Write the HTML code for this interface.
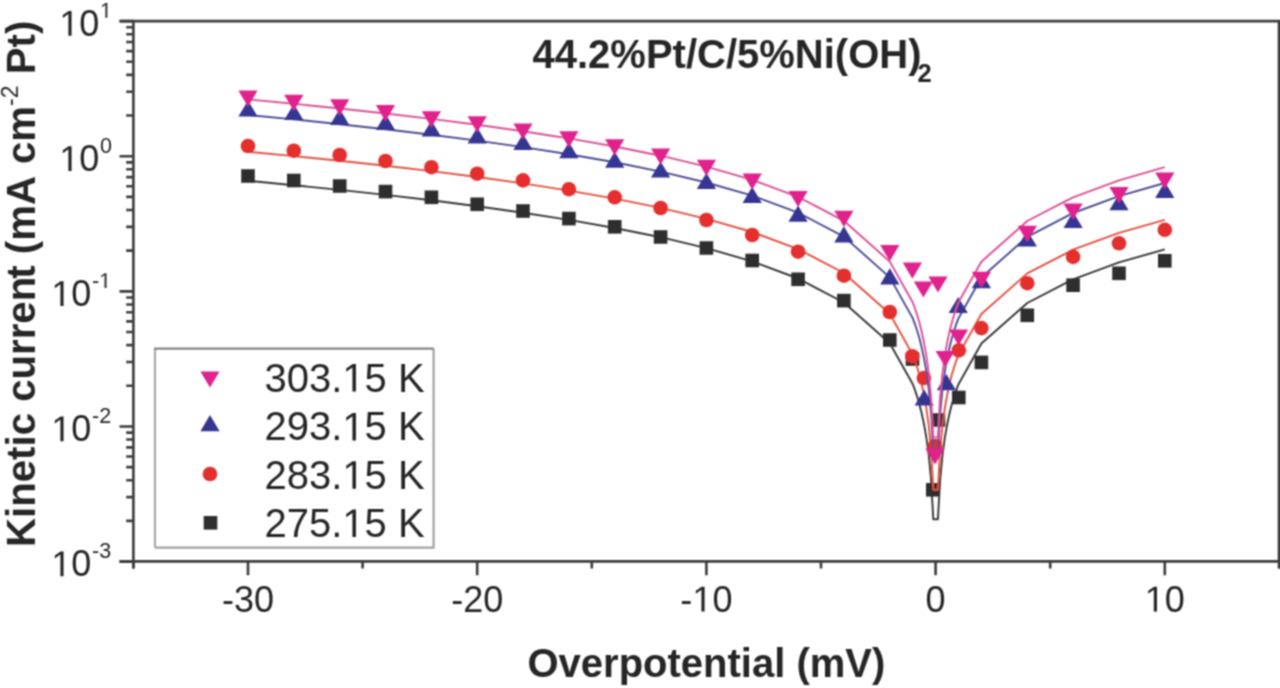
<!DOCTYPE html>
<html><head><meta charset="utf-8"><style>
html,body{margin:0;padding:0;background:#fff;width:1280px;height:688px;overflow:hidden}
svg{display:block}
text{font-family:"Liberation Sans",sans-serif}
.one{fill-opacity:0}
</style></head><body>
<svg width="1280" height="688" viewBox="0 0 1280 688">
<defs><filter id="bl" x="0" y="0" width="1280" height="688" filterUnits="userSpaceOnUse"><feConvolveMatrix order="3" kernelMatrix="1 2 1 2 4 2 1 2 1" divisor="16.0" edgeMode="duplicate" preserveAlpha="false"/></filter></defs>
<rect width="1280" height="688" fill="#fff"/>
<g filter="url(#bl)">
<polyline points="248.0,180.8 293.8,185.2 339.7,189.9 385.5,194.9 431.4,200.3 477.2,206.2 523.0,212.7 568.9,219.9 614.7,228.0 660.6,237.2 706.4,248.1 752.2,261.4 798.1,278.5 843.9,302.5 889.8,343.3 912.7,384.0 915.0,390.2 917.3,397.1 919.6,405.0 921.8,414.0 924.1,424.7 926.4,437.8 928.7,454.7 931.0,478.5 933.3,519.2 937.9,519.2 940.2,478.6 942.5,454.8 944.8,437.9 947.1,424.8 949.4,414.1 951.6,405.1 953.9,397.2 956.2,390.3 958.5,384.2 981.4,343.5 1027.3,303.0 1073.1,279.3 1119.0,262.4 1164.8,249.4" fill="none" stroke="#383838" stroke-width="1.9" stroke-linejoin="round"/>
<rect x="241.2" y="169.2" width="13.6" height="13.6" fill="#2e2e2e"/>
<rect x="287.0" y="173.7" width="13.6" height="13.6" fill="#2e2e2e"/>
<rect x="332.9" y="179.2" width="13.6" height="13.6" fill="#2e2e2e"/>
<rect x="378.7" y="184.8" width="13.6" height="13.6" fill="#2e2e2e"/>
<rect x="424.6" y="190.5" width="13.6" height="13.6" fill="#2e2e2e"/>
<rect x="470.4" y="197.5" width="13.6" height="13.6" fill="#2e2e2e"/>
<rect x="516.2" y="204.2" width="13.6" height="13.6" fill="#2e2e2e"/>
<rect x="562.1" y="211.8" width="13.6" height="13.6" fill="#2e2e2e"/>
<rect x="607.9" y="220.0" width="13.6" height="13.6" fill="#2e2e2e"/>
<rect x="653.8" y="230.2" width="13.6" height="13.6" fill="#2e2e2e"/>
<rect x="699.6" y="241.2" width="13.6" height="13.6" fill="#2e2e2e"/>
<rect x="745.4" y="253.7" width="13.6" height="13.6" fill="#2e2e2e"/>
<rect x="791.3" y="272.5" width="13.6" height="13.6" fill="#2e2e2e"/>
<rect x="837.1" y="293.8" width="13.6" height="13.6" fill="#2e2e2e"/>
<rect x="883.0" y="333.2" width="13.6" height="13.6" fill="#2e2e2e"/>
<rect x="905.7" y="352.2" width="13.6" height="13.6" fill="#2e2e2e"/>
<rect x="926.0" y="483.0" width="13.6" height="13.6" fill="#2e2e2e"/>
<rect x="931.6" y="413.2" width="13.6" height="13.6" fill="#2e2e2e"/>
<rect x="952.0" y="390.7" width="13.6" height="13.6" fill="#2e2e2e"/>
<rect x="974.6" y="355.6" width="13.6" height="13.6" fill="#2e2e2e"/>
<rect x="1020.5" y="308.5" width="13.6" height="13.6" fill="#2e2e2e"/>
<rect x="1066.3" y="278.4" width="13.6" height="13.6" fill="#2e2e2e"/>
<rect x="1112.2" y="266.5" width="13.6" height="13.6" fill="#2e2e2e"/>
<rect x="1158.0" y="254.0" width="13.6" height="13.6" fill="#2e2e2e"/>
<polyline points="248.0,151.7 293.8,156.1 339.7,160.7 385.5,165.7 431.4,171.1 477.2,177.0 523.0,183.4 568.9,190.6 614.7,198.6 660.6,207.9 706.4,218.8 752.2,232.0 798.1,249.1 843.9,273.0 889.8,313.8 912.7,354.6 915.0,360.7 917.3,367.7 919.6,375.5 921.8,384.5 924.1,395.3 926.4,408.4 928.7,425.2 931.0,449.0 933.3,489.7 937.9,489.7 940.2,449.1 942.5,425.3 944.8,408.4 947.1,395.3 949.4,384.6 951.6,375.6 953.9,367.7 956.2,360.8 958.5,354.6 981.4,314.0 1027.3,273.4 1073.1,249.7 1119.0,232.8 1164.8,219.8" fill="none" stroke="#e3513f" stroke-width="1.9" stroke-linejoin="round"/>
<circle cx="248.0" cy="146.0" r="7.3" fill="#e52d2d"/>
<circle cx="293.8" cy="150.7" r="7.3" fill="#e52d2d"/>
<circle cx="339.7" cy="155.0" r="7.3" fill="#e52d2d"/>
<circle cx="385.5" cy="161.0" r="7.3" fill="#e52d2d"/>
<circle cx="431.4" cy="167.2" r="7.3" fill="#e52d2d"/>
<circle cx="477.2" cy="173.7" r="7.3" fill="#e52d2d"/>
<circle cx="523.0" cy="180.4" r="7.3" fill="#e52d2d"/>
<circle cx="568.9" cy="189.2" r="7.3" fill="#e52d2d"/>
<circle cx="614.7" cy="197.3" r="7.3" fill="#e52d2d"/>
<circle cx="660.6" cy="208.0" r="7.3" fill="#e52d2d"/>
<circle cx="706.4" cy="220.0" r="7.3" fill="#e52d2d"/>
<circle cx="752.2" cy="235.0" r="7.3" fill="#e52d2d"/>
<circle cx="798.1" cy="251.7" r="7.3" fill="#e52d2d"/>
<circle cx="843.9" cy="275.7" r="7.3" fill="#e52d2d"/>
<circle cx="889.8" cy="312.0" r="7.3" fill="#e52d2d"/>
<circle cx="912.3" cy="356.2" r="7.3" fill="#e52d2d"/>
<circle cx="923.9" cy="378.0" r="7.3" fill="#e52d2d"/>
<circle cx="935.0" cy="446.0" r="7.3" fill="#e52d2d"/>
<circle cx="958.8" cy="350.4" r="7.3" fill="#e52d2d"/>
<circle cx="981.4" cy="328.1" r="7.3" fill="#e52d2d"/>
<circle cx="1027.3" cy="283.2" r="7.3" fill="#e52d2d"/>
<circle cx="1073.1" cy="256.9" r="7.3" fill="#e52d2d"/>
<circle cx="1119.0" cy="243.3" r="7.3" fill="#e52d2d"/>
<circle cx="1164.8" cy="229.8" r="7.3" fill="#e52d2d"/>
<polyline points="248.0,115.0 293.8,119.4 339.7,124.2 385.5,129.2 431.4,134.7 477.2,140.6 523.0,147.1 568.9,154.2 614.7,162.3 660.6,171.6 706.4,182.5 752.2,195.7 798.1,212.7 843.9,236.6 889.8,277.4 912.7,318.1 915.0,324.3 917.3,331.2 919.6,339.1 921.8,348.1 924.1,358.8 926.4,371.9 928.7,388.8 931.0,412.6 933.3,453.3 937.9,453.3 940.2,412.6 942.5,388.8 944.8,371.9 947.1,358.8 949.4,348.1 951.6,339.1 953.9,331.3 956.2,324.4 958.5,318.2 981.4,277.5 1027.3,236.8 1073.1,213.0 1119.0,196.1 1164.8,183.0" fill="none" stroke="#4c4c98" stroke-width="1.9" stroke-linejoin="round"/>
<path d="M238.4 116.6H257.6L248.0 100.4Z" fill="#343494"/>
<path d="M284.2 120.1H303.4L293.8 103.9Z" fill="#343494"/>
<path d="M330.1 125.0H349.3L339.7 108.8Z" fill="#343494"/>
<path d="M375.9 130.1H395.1L385.5 113.9Z" fill="#343494"/>
<path d="M421.8 136.6H441.0L431.4 120.4Z" fill="#343494"/>
<path d="M467.6 143.4H486.8L477.2 127.2Z" fill="#343494"/>
<path d="M513.4 149.9H532.6L523.0 133.7Z" fill="#343494"/>
<path d="M559.3 158.2H578.5L568.9 142.0Z" fill="#343494"/>
<path d="M605.1 167.8H624.3L614.7 151.6Z" fill="#343494"/>
<path d="M651.0 177.6H670.2L660.6 161.4Z" fill="#343494"/>
<path d="M696.8 188.9H716.0L706.4 172.7Z" fill="#343494"/>
<path d="M742.6 203.0H761.8L752.2 186.8Z" fill="#343494"/>
<path d="M788.5 221.8H807.7L798.1 205.6Z" fill="#343494"/>
<path d="M834.3 242.5H853.5L843.9 226.3Z" fill="#343494"/>
<path d="M880.2 284.4H899.4L889.8 268.2Z" fill="#343494"/>
<path d="M914.6 405.6H933.8L924.2 389.4Z" fill="#343494"/>
<path d="M936.8 390.2H956.0L946.4 374.0Z" fill="#343494"/>
<path d="M948.6 313.1H967.8L958.2 296.9Z" fill="#343494"/>
<path d="M971.8 288.3H991.0L981.4 272.1Z" fill="#343494"/>
<path d="M1017.7 246.6H1036.9L1027.3 230.4Z" fill="#343494"/>
<path d="M1063.5 228.0H1082.7L1073.1 211.8Z" fill="#343494"/>
<path d="M1109.4 210.2H1128.6L1119.0 194.0Z" fill="#343494"/>
<path d="M1155.2 198.0H1174.4L1164.8 181.8Z" fill="#343494"/>
<polyline points="248.0,99.4 293.8,103.8 339.7,108.5 385.5,113.5 431.4,118.9 477.2,124.8 523.0,131.3 568.9,138.4 614.7,146.5 660.6,155.7 706.4,166.6 752.2,179.9 798.1,196.9 843.9,220.8 889.8,261.6 912.7,302.3 915.0,308.5 917.3,315.4 919.6,323.2 921.8,332.3 924.1,343.0 926.4,356.1 928.7,373.0 931.0,396.8 933.3,437.4 937.9,437.4 940.2,396.8 942.5,373.0 944.8,356.1 947.1,343.0 949.4,332.3 951.6,323.3 953.9,315.4 956.2,308.5 958.5,302.3 981.4,261.7 1027.3,221.0 1073.1,197.3 1119.0,180.4 1164.8,167.2" fill="none" stroke="#de4f96" stroke-width="1.9" stroke-linejoin="round"/>
<path d="M238.4 90.5H257.6L248.0 106.7Z" fill="#e0218c"/>
<path d="M284.2 94.8H303.4L293.8 111.0Z" fill="#e0218c"/>
<path d="M330.1 99.2H349.3L339.7 115.4Z" fill="#e0218c"/>
<path d="M375.9 105.1H395.1L385.5 121.3Z" fill="#e0218c"/>
<path d="M421.8 111.2H441.0L431.4 127.4Z" fill="#e0218c"/>
<path d="M467.6 116.3H486.8L477.2 132.5Z" fill="#e0218c"/>
<path d="M513.4 123.4H532.6L523.0 139.6Z" fill="#e0218c"/>
<path d="M559.3 131.2H578.5L568.9 147.4Z" fill="#e0218c"/>
<path d="M605.1 139.3H624.3L614.7 155.5Z" fill="#e0218c"/>
<path d="M651.0 148.5H670.2L660.6 164.7Z" fill="#e0218c"/>
<path d="M696.8 159.7H716.0L706.4 175.9Z" fill="#e0218c"/>
<path d="M742.6 173.5H761.8L752.2 189.7Z" fill="#e0218c"/>
<path d="M788.5 190.9H807.7L798.1 207.1Z" fill="#e0218c"/>
<path d="M834.3 210.8H853.5L843.9 227.0Z" fill="#e0218c"/>
<path d="M880.2 245.1H899.4L889.8 261.3Z" fill="#e0218c"/>
<path d="M902.8 262.5H922.0L912.4 278.7Z" fill="#e0218c"/>
<path d="M913.8 281.4H933.0L923.4 297.6Z" fill="#e0218c"/>
<path d="M928.4 276.4H947.6L938.0 292.6Z" fill="#e0218c"/>
<path d="M935.6 350.9H954.8L945.2 367.1Z" fill="#e0218c"/>
<path d="M949.0 329.4H968.2L958.6 345.6Z" fill="#e0218c"/>
<path d="M925.4 448.4H944.6L935.0 464.6Z" fill="#e0218c"/>
<path d="M971.8 271.7H991.0L981.4 287.9Z" fill="#e0218c"/>
<path d="M1017.7 225.8H1036.9L1027.3 242.0Z" fill="#e0218c"/>
<path d="M1063.5 203.4H1082.7L1073.1 219.6Z" fill="#e0218c"/>
<path d="M1109.4 187.0H1128.6L1119.0 203.2Z" fill="#e0218c"/>
<path d="M1155.2 172.6H1174.4L1164.8 188.8Z" fill="#e0218c"/>
<path d="M133.4 21.1V568.6M1279.0 19.8V568.6M119.5 21.1H1280M119.5 561.4H1280" stroke="#3c3c3c" stroke-width="2.6" fill="none"/>
<path d="M119.5 561.60H133.4M126.2 520.92H133.4M126.2 497.13H133.4M126.2 480.25H133.4M126.2 467.15H133.4M126.2 456.45H133.4M126.2 447.41H133.4M126.2 439.57H133.4M126.2 432.66H133.4M119.5 426.48H133.4M126.2 385.80H133.4M126.2 362.00H133.4M126.2 345.12H133.4M126.2 332.03H133.4M126.2 321.33H133.4M126.2 312.28H133.4M126.2 304.44H133.4M126.2 297.53H133.4M119.5 291.35H133.4M126.2 250.67H133.4M126.2 226.88H133.4M126.2 210.00H133.4M126.2 196.90H133.4M126.2 186.20H133.4M126.2 177.16H133.4M126.2 169.32H133.4M126.2 162.41H133.4M119.5 156.22H133.4M126.2 115.55H133.4M126.2 91.75H133.4M126.2 74.87H133.4M126.2 61.78H133.4M126.2 51.08H133.4M126.2 42.03H133.4M126.2 34.19H133.4M126.2 27.28H133.4M119.5 21.10H133.4M248.00 561.4V575.2M477.20 561.4V575.2M706.40 561.4V575.2M935.60 561.4V575.2M1164.80 561.4V575.2M133.40 561.4V568.6M362.60 561.4V568.6M591.80 561.4V568.6M821.00 561.4V568.6M1050.20 561.4V568.6M1279.40 561.4V568.6" stroke="#3c3c3c" stroke-width="2.6" fill="none"/>
<path d="M155 547.6V348.6" stroke="#a8a8a8" stroke-width="2.2" fill="none"/><path d="M433.6 348.6V547.6H155" stroke="#a2a2a2" stroke-width="2.2" fill="none"/><path d="M154 348.6H433.6" stroke="#858585" stroke-width="2.3" fill="none"/>
<path d="M200.4 371.4H219.6L210.0 387.6Z" fill="#e0218c"/>
<path d="M200.4 431.3H219.6L210.0 415.1Z" fill="#343494"/>
<circle cx="210.0" cy="474.0" r="7.3" fill="#e52d2d"/>
<rect x="203.7" y="516.0" width="13.6" height="13.6" fill="#2e2e2e"/>
<g font-size="40" fill="#262626">
<text x="264.5" y="391.6">303.<tspan class="one">1</tspan>5 K</text>
<text x="264.5" y="440.4">293.<tspan class="one">1</tspan>5 K</text>
<text x="264.5" y="488.8">283.<tspan class="one">1</tspan>5 K</text>
<text x="264.5" y="537.1">275.<tspan class="one">1</tspan>5 K</text>
</g>
<g font-size="36" fill="#262626">
<text x="248.0" y="611.5" text-anchor="middle">-30</text>
<text x="477.2" y="611.5" text-anchor="middle">-20</text>
<text x="706.4" y="611.5" text-anchor="middle">-<tspan class="one">1</tspan>0</text>
<text x="935.6" y="611.5" text-anchor="middle">0</text>
<text x="1164.8" y="611.5" text-anchor="middle"><tspan class="one">1</tspan>0</text>
<text x="91.4" y="576.3" text-anchor="end"><tspan class="one">1</tspan>0</text><text x="92.0" y="558.3" font-size="21.5">-3</text>
<text x="91.4" y="441.2" text-anchor="end"><tspan class="one">1</tspan>0</text><text x="92.0" y="423.2" font-size="21.5">-2</text>
<text x="91.4" y="306.1" text-anchor="end"><tspan class="one">1</tspan>0</text><text x="92.0" y="288.1" font-size="21.5">-<tspan class="one">1</tspan></text>
<text x="99.4" y="170.9" text-anchor="end"><tspan class="one">1</tspan>0</text><text x="100.0" y="152.9" font-size="21.5">0</text>
<text x="99.4" y="35.8" text-anchor="end"><tspan class="one">1</tspan>0</text><text x="100.0" y="17.8" font-size="21.5"><tspan class="one">1</tspan></text>
</g>
<text x="706.4" y="677" text-anchor="middle" font-size="40" font-weight="bold" fill="#262626">Overpotential (mV)</text>
<text x="532.5" y="67.8" font-size="40" font-weight="bold" fill="#262626">44.2%Pt/C/5%Ni(OH)<tspan font-size="25.5" dy="14.6" dx="-4">2</tspan></text>
<text transform="translate(34.9,547) rotate(-90)" font-size="40.2" font-weight="bold" fill="#262626">Kinetic curren<tspan dx="-2">t (mA</tspan><tspan dx="2.4"> cm</tspan><tspan font-size="23" font-weight="normal" dy="-17">-2</tspan><tspan dy="17"> Pt)</tspan></text>
<path fill="#262626" d="M352.42,391.60 L352.42,367.44 L346.21,371.87 L346.21,368.55 L352.71,364.08 L355.95,364.08 L355.95,391.60Z M352.42,440.40 L352.42,416.24 L346.21,420.67 L346.21,417.35 L352.71,412.88 L355.95,412.88 L355.95,440.40Z M352.42,488.80 L352.42,464.64 L346.21,469.07 L346.21,465.75 L352.71,461.28 L355.95,461.28 L355.95,488.80Z M352.42,537.10 L352.42,512.94 L346.21,517.37 L346.21,514.05 L352.71,509.58 L355.95,509.58 L355.95,537.10Z M701.42,611.50 L701.42,589.76 L695.83,593.75 L695.83,590.76 L701.69,586.73 L704.60,586.73 L704.60,611.50Z M1153.82,611.50 L1153.82,589.76 L1148.23,593.75 L1148.23,590.76 L1154.09,586.73 L1157.00,586.73 L1157.00,611.50Z M60.39,576.30 L60.39,554.56 L54.80,558.55 L54.80,555.56 L60.65,551.53 L63.57,551.53 L63.57,576.30Z M60.39,441.20 L60.39,419.46 L54.80,423.45 L54.80,420.46 L60.65,416.43 L63.57,416.43 L63.57,441.20Z M60.39,306.10 L60.39,284.36 L54.80,288.35 L54.80,285.36 L60.65,281.33 L63.57,281.33 L63.57,306.10Z M104.58,288.10 L104.58,275.11 L101.24,277.50 L101.24,275.71 L104.74,273.31 L106.48,273.31 L106.48,288.10Z M68.39,170.90 L68.39,149.16 L62.80,153.15 L62.80,150.16 L68.65,146.13 L71.57,146.13 L71.57,170.90Z M68.39,35.80 L68.39,14.06 L62.80,18.05 L62.80,15.06 L68.65,11.03 L71.57,11.03 L71.57,35.80Z M105.41,17.80 L105.41,4.81 L102.07,7.20 L102.07,5.41 L105.56,3.01 L107.31,3.01 L107.31,17.80Z"/>
</g>
</svg>
</body></html>
